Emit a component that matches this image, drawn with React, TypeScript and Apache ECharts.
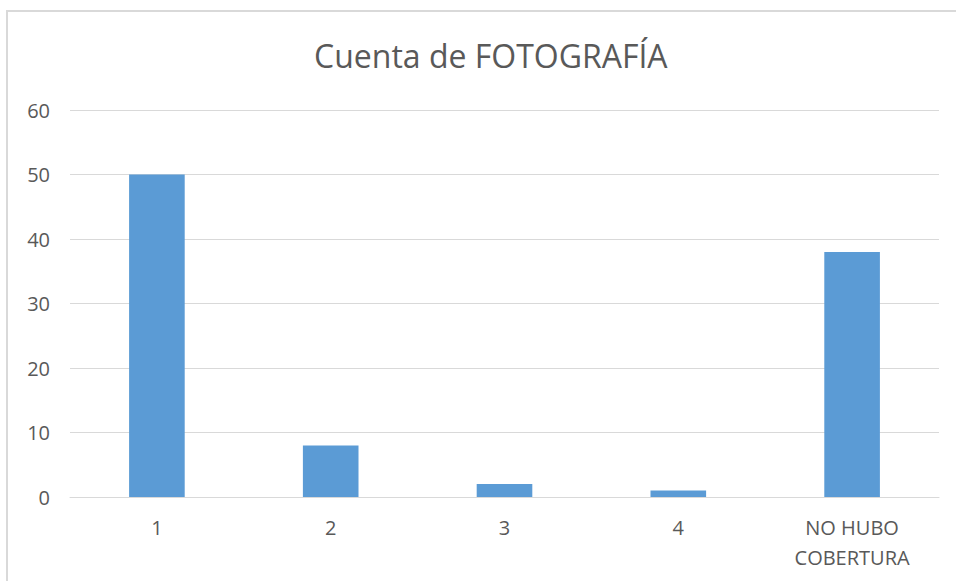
import React, { useEffect, useRef } from "react";
import * as echarts from "echarts";

const categories = ["1", "2", "3", "4", "NO HUBO\nCOBERTURA"];
const counts = [50, 8, 2, 1, 38];
const titleText = "Cuenta de FOTOGRAFÍA";

export default function App() {
  const ref = useRef<HTMLDivElement>(null);
  useEffect(() => {
    if (!ref.current) return;
    const chart = echarts.init(ref.current, undefined, { renderer: "svg" });
    const font = "'Open Sans', 'Noto Sans', sans-serif";
    chart.setOption({
      animation: false,
      backgroundColor: "#ffffff",
      title: {
        text: titleText,
        left: 309,
        top: 34,
        textStyle: { fontFamily: font, fontSize: 32, fontWeight: "normal", color: "#595959" },
      },
      graphic: [
        {
          type: "rect",
          shape: { x: 7, y: 11, width: 1000, height: 700 },
          style: { fill: "none", stroke: "#d9d9d9", lineWidth: 2 },
          silent: true,
        },
      ],
      grid: { left: 70, right: 17, top: 110, bottom: 84 },
      xAxis: {
        type: "category",
        data: categories,
        axisTick: { show: false },
        axisLine: { show: true, lineStyle: { color: "#d9d9d9", width: 1 } },
        axisLabel: {
          color: "#595959",
          fontFamily: font,
          fontSize: 20,
          margin: 15,
          lineHeight: 30,
          interval: 0,
        },
      },
      yAxis: {
        type: "value",
        min: 0,
        max: 60,
        interval: 10,
        axisLine: { show: false },
        axisTick: { show: false },
        splitLine: { lineStyle: { color: "#d9d9d9", width: 1 } },
        axisLabel: { color: "#595959", fontFamily: font, fontSize: 20, margin: 20 },
      },
      series: [
        {
          type: "bar",
          data: counts,
          barWidth: "32%",
          itemStyle: { color: "#5b9bd5" },
        },
      ],
    });
    return () => chart.dispose();
  }, []);
  return (
    <div
      ref={ref}
      style={{ position: "fixed", left: 0, top: 0, width: 956, height: 581 }}
    />
  );
}
